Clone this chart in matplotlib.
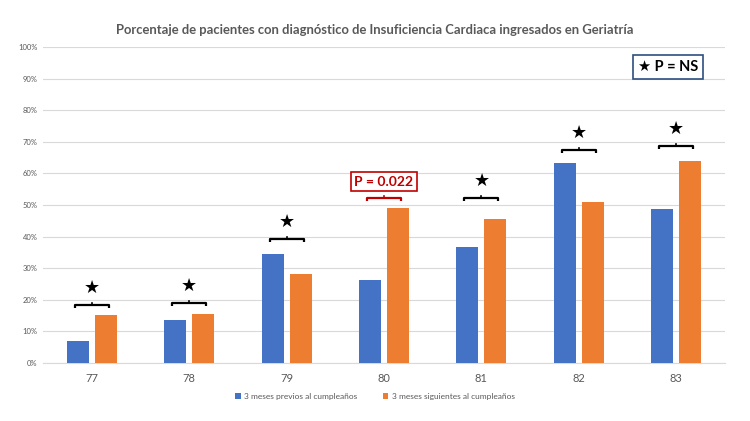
import matplotlib.pyplot as plt
import numpy as np

plt.rcParams['font.family'] = ['Lato', 'DejaVu Sans']

# datos (%)
edades = ['77', '78', '79', '80', '81', '82', '83']
previos = [7.0, 13.7, 34.5, 26.3, 36.7, 63.2, 48.7]
siguientes = [15.1, 15.6, 28.2, 49.1, 45.7, 50.9, 63.8]
# altura de los corchetes y etiqueta de significacion
corchete = [18.4, 19.1, 39.2, 52.3, 52.2, 67.4, 68.7]
signif = ['NS', 'NS', 'NS', '0.022', 'NS', 'NS', 'NS']

azul = '#4472C4'
naranja = '#ED7D31'
rojo = '#C00000'
gris = '#595959'

fig = plt.figure(figsize=(7.5, 4.21), dpi=100)
ax = fig.add_axes([43 / 750, 1 - 363 / 421, 682 / 750, 316 / 421])

x = np.arange(len(edades))
w = 0.226
ax.bar(x - 0.144, previos, w, color=azul, label='3 meses previos al cumpleaños', zorder=3)
ax.bar(x + 0.144, siguientes, w, color=naranja, label='3 meses siguientes al cumpleaños', zorder=3)

ax.set_xlim(-0.5, len(edades) - 0.5)
ax.set_ylim(0, 100)
ax.set_yticks(range(0, 101, 10))
ax.set_yticklabels([f'{v}%' for v in range(0, 101, 10)])
ax.set_xticks(x)
ax.set_xticklabels(edades)
ax.grid(axis='y', color='#D9D9D9', linewidth=0.8, zorder=0)
for s in ['top', 'right', 'left']:
    ax.spines[s].set_visible(False)
ax.spines['bottom'].set_color('#D9D9D9')
ax.tick_params(axis='y', length=0, labelsize=5.5, labelcolor=gris, pad=4)
ax.tick_params(axis='x', length=0, labelsize=8, labelcolor=gris, pad=7)

# corchetes y estrellas
for i, (yb, p) in enumerate(zip(corchete, signif)):
    c = 'black' if p == 'NS' else rojo
    hw = 0.175
    ax.plot([i - hw, i - hw, i + hw, i + hw], [yb - 1, yb, yb, yb - 1],
            color=c, linewidth=1.6, zorder=4, solid_capstyle='butt')
    ax.plot([i, i], [yb, yb + 0.6], color=c, linewidth=1.2, zorder=4)
    if p == 'NS':
        ax.text(i, yb + 5.3, '★', ha='center', va='center', fontsize=13,
                family='DejaVu Sans', color='black')
    else:
        ax.text(i, yb + 5.1, f'P = {p}', ha='center', va='center', fontsize=10,
                fontweight='bold', color=rojo,
                bbox=dict(boxstyle='square,pad=0.25', fc='white', ec=rojo, lw=1.2))

# leyenda de la estrella
fig.text(668 / 750, 1 - 67 / 421, '★ P = NS', ha='center', va='center', fontsize=10.5,
         fontweight='bold', color='black',
         bbox=dict(boxstyle='square,pad=0.35', fc='white', ec='#2F4F7F', lw=1.2))

fig.text(0.5, 1 - 30 / 421,
         'Porcentaje de pacientes con diagnóstico de Insuficiencia Cardiaca ingresados en Geriatría',
         ha='center', va='center', fontsize=9.4, fontweight='bold', color=gris)

fig.legend(loc='center', bbox_to_anchor=(0.5, 1 - 396 / 421), ncol=2, frameon=False,
           fontsize=6, labelcolor=gris, handlelength=0.7, handleheight=0.7,
           handletextpad=0.4, columnspacing=3)

fig.savefig('out.png', dpi=100, facecolor='white')
